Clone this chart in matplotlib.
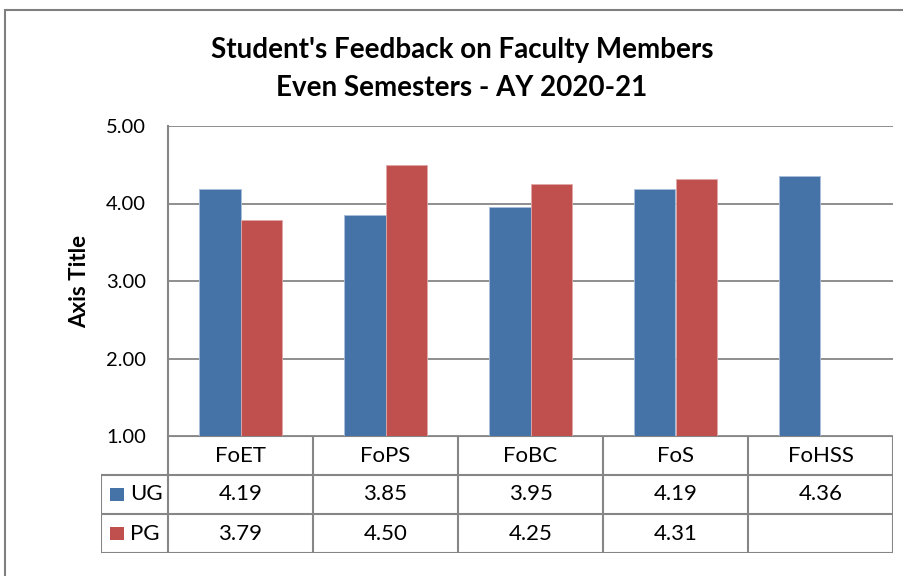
import matplotlib.pyplot as plt
from matplotlib.patches import Rectangle
import numpy as np

plt.rcParams['font.family'] = ['Lato', 'DejaVu Sans']

categories = ['FoET', 'FoPS', 'FoBC', 'FoS', 'FoHSS']
ug_values = [4.19, 3.85, 3.95, 4.19, 4.36]
pg_values = [3.79, 4.50, 4.25, 4.31, None]
ug_labels = ['4.19', '3.85', '3.95', '4.19', '4.36']
pg_labels = ['3.79', '4.50', '4.25', '4.31', '']
yticks = [1.0, 2.0, 3.0, 4.0, 5.0]

blue = '#4572A7'
red = '#C0504D'
gridc = '#868686'

W, H = 904, 576
fig = plt.figure(figsize=(W / 100, H / 100), dpi=100)


def fbox(x0, y0, x1, y1):
    # pixel box (top-left origin) -> figure fraction rect
    return [x0 / W, 1 - y1 / H, (x1 - x0) / W, (y1 - y0) / H]


# outer chart border (clipped at right / bottom like the original)
fig.patches.append(Rectangle((5 / W, -0.1), 1.2, 1 - 10 / H + 0.1,
                             transform=fig.transFigure, fill=False,
                             edgecolor='#7f7f7f', linewidth=1.5))

# plot area
ax = fig.add_axes(fbox(168, 126, 893, 436))
x = np.arange(len(categories))
bw = 0.283
ax.bar(x - bw / 2, ug_values, bw, color=blue, edgecolor='#a9bfdb',
       linewidth=0.6, zorder=3)
pg_x = [xi for xi, v in zip(x, pg_values) if v is not None]
pg_h = [v for v in pg_values if v is not None]
ax.bar(np.array(pg_x) + bw / 2, pg_h, bw, color=red, edgecolor='#e0a9a7',
       linewidth=0.6, zorder=3)
ax.set_xlim(-0.5, len(categories) - 0.5)
ax.set_ylim(1.0, 5.0)
ax.set_yticks(yticks)
ax.set_yticklabels(['%.2f' % t for t in yticks], fontsize=14.5)
ax.set_xticks([])
ax.tick_params(axis='y', length=0, pad=16)
ax.yaxis.grid(True, color=gridc, linewidth=1.3, zorder=0)
for s in ['top', 'right', 'bottom']:
    ax.spines[s].set_visible(False)
ax.spines['left'].set_color(gridc)
ax.spines['left'].set_linewidth(1.5)
ax.set_ylabel('Axis Title', fontsize=16, fontweight='bold', labelpad=11)

# data table below plot area
tab = fig.add_axes(fbox(101, 436, 893, 553))
leg_w = 67 / 145.0
tab.set_xlim(-0.5 - leg_w, len(categories) - 0.5)
tab.set_ylim(3, 0)
tab.axis('off')
lk = dict(color=gridc, linewidth=1.5, solid_capstyle='projecting')
xl = -0.5 - leg_w
# horizontal lines
tab.plot([-0.5, len(categories) - 0.5], [0, 0], **lk)
for r in [1, 2, 3]:
    tab.plot([xl, len(categories) - 0.5], [r, r], **lk)
# vertical lines
tab.plot([xl, xl], [1, 3], **lk)
for c in range(len(categories) + 1):
    tab.plot([c - 0.5, c - 0.5], [0, 3], **lk)

for i, cat in enumerate(categories):
    tab.text(i, 0.5, cat, ha='center', va='center', fontsize=16)
    tab.text(i, 1.5, ug_labels[i], ha='center', va='center', fontsize=16)
    tab.text(i, 2.5, pg_labels[i], ha='center', va='center', fontsize=16)

for r, name, col in [(1.5, 'UG', blue), (2.5, 'PG', red)]:
    tab.add_patch(Rectangle((xl + 0.06, r - 0.17), 0.097, 0.34,
                            facecolor=col, edgecolor='none'))
    tab.text(xl + 0.2, r, name, ha='left', va='center', fontsize=16)

fig.text(462 / W, 1 - 50 / H, "Student's Feedback on Faculty Members",
         ha='center', va='center', fontsize=20, fontweight='bold')
fig.text(462 / W, 1 - 88 / H, 'Even Semesters - AY 2020-21',
         ha='center', va='center', fontsize=20, fontweight='bold')

fig.savefig('out.png', dpi=100)
